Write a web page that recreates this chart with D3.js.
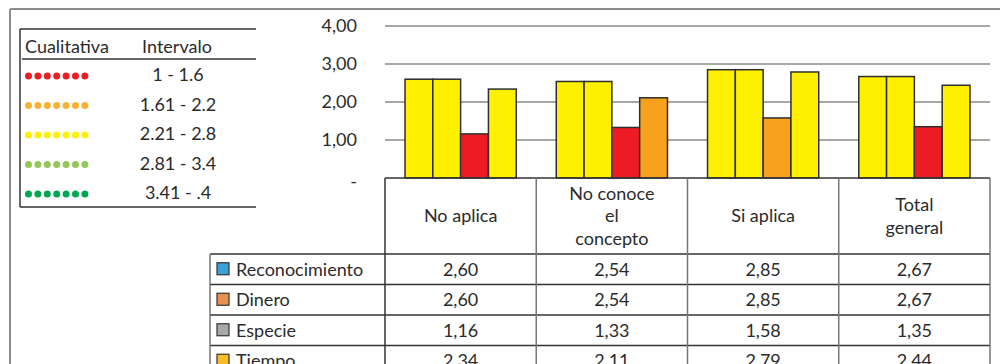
<!DOCTYPE html>
<html><head><meta charset="utf-8">
<script src="https://cdn.jsdelivr.net/npm/d3@7"></script>
<style>body{margin:0;background:#fff} svg{display:block}</style>
</head><body><svg id="c" width="1000" height="364"></svg>
<script>
// ---------- data ----------
const categories = ["No aplica", "No conoce el concepto", "Si aplica", "Total general"];
const categoryLines = [["No aplica"], ["No conoce", "el", "concepto"], ["Si aplica"], ["Total", "general"]];
const series = ["Reconocimiento", "Dinero", "Especie", "Tiempo"];
const reconocimiento = [2.60, 2.54, 2.85, 2.67];
const dinero = [2.60, 2.54, 2.85, 2.67];
const especie = [1.16, 1.33, 1.58, 1.35];
const tiempo = [2.34, 2.11, 2.79, 2.44];
// qualitative level of each bar (index into the legend rows), as drawn
const reconocimientoLevel = [2, 2, 2, 2];
const dineroLevel = [2, 2, 2, 2];
const especieLevel = [0, 0, 1, 0];
const tiempoLevel = [2, 1, 2, 2];
const qualLabels = ["1 - 1.6", "1.61 - 2.2", "2.21 - 2.8", "2.81 - 3.4", "3.41 - .4"];
const yTicks = [0, 1, 2, 3, 4];
const yTickLabels = ["-", "1,00", "2,00", "3,00", "4,00"];

const seriesValues = [reconocimiento, dinero, especie, tiempo];
const seriesLevels = [reconocimientoLevel, dineroLevel, especieLevel, tiempoLevel];

// ---------- styles ----------
const FONT = "Lato, 'DejaVu Sans', sans-serif";
const FS = "18px";
const qualColors = ["#ee1c25", "#f9b233", "#fff100", "#95c65a", "#00a650"];
const barColors = ["#ed1c24", "#f7a11c", "#fff000", "#95c65a", "#00a650"];
const swatchColors = ["#3b9fd8", "#e8904f", "#a6a8ab", "#f9bd2b"];
const textColor = "#2b2b2b";

const svg = d3.select("#c");
svg.style("font-family", FONT);

// outer frame
svg.append("line").attr("x1", 10).attr("x2", 1000).attr("y1", 9).attr("y2", 9)
  .attr("stroke", "#8c8c8c").attr("stroke-width", 2);
svg.append("line").attr("x1", 10).attr("x2", 10).attr("y1", 9).attr("y2", 364)
  .attr("stroke", "#8c8c8c").attr("stroke-width", 2);

// ---------- scales ----------
const plotLeft = 385, plotRight = 990;
const y = d3.scaleLinear().domain([0, 4]).range([178, 26]);
const x0 = d3.scaleBand().domain(categories).range([plotLeft, plotRight]).padding(0);
const x1 = d3.scaleBand().domain(series).range([0, x0.bandwidth()]).paddingInner(0).paddingOuter(0.72);
const levelColor = d3.scaleOrdinal().domain(d3.range(5)).range(barColors);

// axis labels
const yAxis = d3.axisLeft(y).tickValues(yTicks).tickSize(0)
  .tickFormat((d, i) => yTickLabels[i]);
const gAxis = svg.append("g").attr("transform", `translate(357,0)`).call(yAxis);
gAxis.select(".domain").remove();
gAxis.selectAll("text").attr("x", 0).attr("fill", textColor)
  .style("font-size", FS).style("font-family", FONT)
  .attr("dy", d => d === 0 ? "0.55em" : "0.32em");

// gridlines
svg.append("g").selectAll("line").data(yTicks.filter(d => d > 0)).join("line")
  .attr("x1", plotLeft).attr("x2", plotRight)
  .attr("y1", d => y(d)).attr("y2", d => y(d))
  .attr("stroke", "#8a8a8a").attr("stroke-width", 1.6);

// bars
const barData = [];
categories.forEach((c, ci) => series.forEach((s, si) => {
  barData.push({ c, s, v: seriesValues[si][ci], lvl: seriesLevels[si][ci] });
}));
svg.append("g").selectAll("rect").data(barData).join("rect")
  .attr("x", d => x0(d.c) + x1(d.s))
  .attr("width", x1.bandwidth())
  .attr("y", d => y(d.v))
  .attr("height", d => y(0) - y(d.v))
  .attr("fill", d => levelColor(d.lvl))
  .attr("stroke", "#2e2e2e").attr("stroke-width", 1.5);

// ---------- table ----------
const tableTop = y(0), headerBottom = 254, rowH = 30.5, labelLeft = 210;
const rowY = d3.scaleBand().domain(series).range([headerBottom, headerBottom + rowH * series.length]);
const locale = d3.formatLocale({ decimal: ",", thousands: ".", grouping: [3], currency: ["", ""] });
const fmt = locale.format(".2f");

const gt = svg.append("g");
gt.append("line").attr("x1", plotLeft).attr("x2", plotRight).attr("y1", tableTop).attr("y2", tableTop)
  .attr("stroke", "#333").attr("stroke-width", 1.5);
series.forEach((s) => {
  gt.append("line").attr("x1", labelLeft).attr("x2", plotRight)
    .attr("y1", rowY(s)).attr("y2", rowY(s))
    .attr("stroke", "#333").attr("stroke-width", 1.5);
});
gt.append("line").attr("x1", labelLeft).attr("x2", labelLeft).attr("y1", headerBottom).attr("y2", 364)
  .attr("stroke", "#777").attr("stroke-width", 1.5);
categories.forEach((c, i) => {
  gt.append("line").attr("x1", x0(c)).attr("x2", x0(c)).attr("y1", tableTop).attr("y2", 364)
    .attr("stroke", i === 0 ? "#333" : "#777").attr("stroke-width", 1.5);
});
gt.append("line").attr("x1", plotRight).attr("x2", plotRight).attr("y1", tableTop).attr("y2", 364)
  .attr("stroke", "#777").attr("stroke-width", 1.5);

// header text
const headMid = (tableTop + headerBottom) / 2, lineH = 22.5;
categories.forEach((c, ci) => {
  const lines = categoryLines[ci];
  const t = gt.append("text").attr("text-anchor", "middle").attr("fill", textColor)
    .style("font-size", FS);
  lines.forEach((ln, li) => {
    t.append("tspan").attr("x", x0(c) + x0.bandwidth() / 2)
      .attr("y", headMid + (li - (lines.length - 1) / 2) * lineH)
      .attr("dy", "0.35em").text(ln);
  });
});

// rows
series.forEach((s, si) => {
  const cy = rowY(s) + rowY.bandwidth() / 2;
  gt.append("rect").attr("x", 217).attr("y", cy - 6.5).attr("width", 12).attr("height", 12)
    .attr("fill", swatchColors[si]).attr("stroke", "#333").attr("stroke-width", 1.2);
  gt.append("text").attr("x", 236).attr("y", cy).attr("dy", "0.35em")
    .attr("fill", textColor).style("font-size", FS).text(s);
  categories.forEach((c, ci) => {
    gt.append("text").attr("x", x0(c) + x0.bandwidth() / 2).attr("y", cy).attr("dy", "0.35em")
      .attr("text-anchor", "middle").attr("fill", textColor).style("font-size", FS)
      .text(fmt(seriesValues[si][ci]));
  });
});

// ---------- qualitative legend ----------
const gl = svg.append("g");
gl.append("line").attr("x1", 20).attr("x2", 256).attr("y1", 29).attr("y2", 29).attr("stroke", "#333").attr("stroke-width", 1.5);
gl.append("line").attr("x1", 22).attr("x2", 256).attr("y1", 59).attr("y2", 59).attr("stroke", "#333").attr("stroke-width", 1.5);
gl.append("line").attr("x1", 20).attr("x2", 256).attr("y1", 207).attr("y2", 207).attr("stroke", "#333").attr("stroke-width", 1.5);
gl.append("line").attr("x1", 20).attr("x2", 20).attr("y1", 29).attr("y2", 207).attr("stroke", "#333").attr("stroke-width", 1.5);
gl.append("text").attr("x", 25).attr("y", 52.5).attr("fill", textColor).style("font-size", FS).text("Cualitativa");
gl.append("text").attr("x", 177).attr("y", 52.5).attr("text-anchor", "middle").attr("fill", textColor).style("font-size", FS).text("Intervalo");
const legY = d3.scalePoint().domain(d3.range(qualLabels.length)).range([76, 194]);
qualLabels.forEach((lab, i) => {
  const cy = legY(i);
  gl.append("g").selectAll("circle").data(d3.range(7)).join("circle")
    .attr("cx", k => 28.5 + k * 9.4).attr("cy", cy).attr("r", 3.5).attr("fill", qualColors[i]);
  gl.append("text").attr("x", 178).attr("y", cy - 1).attr("dy", "0.35em").attr("text-anchor", "middle")
    .attr("fill", textColor).style("font-size", FS).text(lab);
});
</script></body></html>
